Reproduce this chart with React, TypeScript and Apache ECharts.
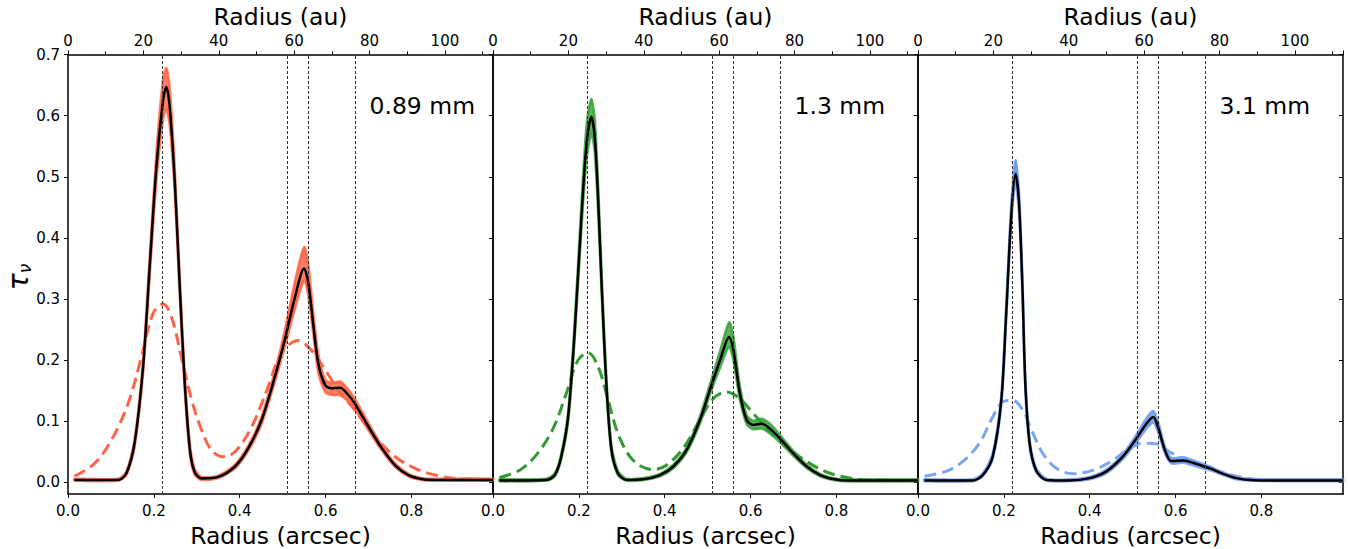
import React, { useEffect, useRef } from "react";
import * as echarts from "echarts";

// ---------- data ----------
const PANEL_LABELS = ["0.89 mm", "1.3 mm", "3.1 mm"];
const Y_TICKS = [0, 0.1, 0.2, 0.3, 0.4, 0.5, 0.6, 0.7];
const VLINES = [0.2215, 0.505, 0.564, 0.668];
const X_MAX = 0.99;
const AU_PER_ARCSEC = 113.9;

// Panel 1 (0.89 mm)
const X1 = [0.015, 0.117, 0.136, 0.155, 0.175, 0.19, 0.206, 0.2215, 0.229, 0.237, 0.249, 0.26, 0.272, 0.284, 0.295, 0.311, 0.35, 0.389, 0.42, 0.451, 0.482, 0.505, 0.529, 0.55, 0.56, 0.571, 0.583, 0.599, 0.614, 0.634, 0.653, 0.668, 0.7, 0.731, 0.762, 0.793, 0.824, 0.855, 0.99];
const B1 = [0.004, 0.004, 0.015, 0.064, 0.19, 0.35, 0.516, 0.625, 0.647, 0.614, 0.489, 0.325, 0.162, 0.053, 0.017, 0.0065, 0.009, 0.026, 0.056, 0.102, 0.173, 0.233, 0.304, 0.35, 0.325, 0.26, 0.195, 0.159, 0.154, 0.155, 0.143, 0.129, 0.091, 0.056, 0.028, 0.012, 0.0055, 0.004, 0.004];
const U1 = [0.006, 0.006, 0.018, 0.07, 0.2, 0.365, 0.54, 0.66, 0.678, 0.645, 0.51, 0.34, 0.175, 0.062, 0.022, 0.009, 0.011, 0.029, 0.06, 0.108, 0.182, 0.248, 0.33, 0.385, 0.355, 0.28, 0.21, 0.168, 0.163, 0.165, 0.152, 0.137, 0.097, 0.06, 0.031, 0.014, 0.007, 0.006, 0.006];
const L1 = [0.003, 0.003, 0.012, 0.058, 0.18, 0.335, 0.495, 0.595, 0.61, 0.585, 0.47, 0.31, 0.15, 0.046, 0.013, 0.004, 0.007, 0.023, 0.052, 0.096, 0.165, 0.222, 0.285, 0.33, 0.305, 0.245, 0.18, 0.148, 0.143, 0.143, 0.132, 0.12, 0.085, 0.052, 0.025, 0.01, 0.004, 0.003, 0.003];
const D1X = [0.015, 0.062, 0.101, 0.14, 0.171, 0.198, 0.2215, 0.241, 0.264, 0.288, 0.311, 0.334, 0.361, 0.389, 0.428, 0.466, 0.497, 0.536, 0.567, 0.599, 0.63, 0.668, 0.715, 0.762, 0.808, 0.855, 0.902, 0.99];
const D1Y = [0.01, 0.031, 0.069, 0.129, 0.205, 0.276, 0.292, 0.271, 0.205, 0.135, 0.086, 0.053, 0.042, 0.05, 0.091, 0.156, 0.211, 0.232, 0.216, 0.184, 0.151, 0.118, 0.075, 0.042, 0.023, 0.012, 0.0065, 0.004];

// Panel 2 (1.3 mm)
const X2 = [0.015, 0.124, 0.144, 0.159, 0.175, 0.19, 0.206, 0.218, 0.229, 0.237, 0.245, 0.253, 0.264, 0.276, 0.291, 0.311, 0.35, 0.389, 0.42, 0.451, 0.482, 0.505, 0.529, 0.55, 0.56, 0.575, 0.591, 0.606, 0.626, 0.645, 0.668, 0.7, 0.731, 0.762, 0.793, 0.824, 0.99];
const B2 = [0.003, 0.004, 0.012, 0.042, 0.107, 0.244, 0.434, 0.554, 0.598, 0.565, 0.462, 0.325, 0.162, 0.053, 0.015, 0.004, 0.005, 0.012, 0.026, 0.053, 0.102, 0.151, 0.2, 0.238, 0.216, 0.146, 0.102, 0.094, 0.096, 0.088, 0.072, 0.047, 0.026, 0.012, 0.0055, 0.003, 0.003];
const U2 = [0.005, 0.006, 0.015, 0.047, 0.115, 0.258, 0.455, 0.585, 0.627, 0.595, 0.485, 0.342, 0.172, 0.06, 0.019, 0.006, 0.007, 0.014, 0.029, 0.057, 0.108, 0.16, 0.215, 0.262, 0.238, 0.158, 0.11, 0.101, 0.104, 0.096, 0.078, 0.051, 0.029, 0.014, 0.007, 0.005, 0.005];
const L2 = [0.002, 0.003, 0.01, 0.038, 0.1, 0.232, 0.415, 0.53, 0.57, 0.54, 0.44, 0.31, 0.152, 0.047, 0.012, 0.003, 0.004, 0.01, 0.023, 0.049, 0.096, 0.143, 0.188, 0.222, 0.2, 0.135, 0.095, 0.087, 0.088, 0.08, 0.066, 0.043, 0.023, 0.01, 0.004, 0.002, 0.002];
const D2X = [0.015, 0.062, 0.101, 0.14, 0.171, 0.198, 0.2215, 0.245, 0.268, 0.291, 0.319, 0.346, 0.373, 0.404, 0.443, 0.482, 0.513, 0.544, 0.575, 0.606, 0.645, 0.684, 0.731, 0.777, 0.824, 0.871, 0.99];
const D2Y = [0.008, 0.02, 0.045, 0.088, 0.146, 0.2, 0.212, 0.189, 0.135, 0.08, 0.042, 0.026, 0.021, 0.028, 0.056, 0.102, 0.137, 0.148, 0.137, 0.113, 0.083, 0.058, 0.034, 0.017, 0.008, 0.004, 0.003];

// Panel 3 (3.1 mm)
const X3 = [0.015, 0.127, 0.151, 0.174, 0.194, 0.205, 0.217, 0.227, 0.235, 0.243, 0.25, 0.26, 0.275, 0.299, 0.353, 0.4, 0.439, 0.477, 0.509, 0.532, 0.548, 0.559, 0.575, 0.59, 0.618, 0.649, 0.68, 0.711, 0.742, 0.773, 0.843, 0.99];
const B3 = [0.003, 0.003, 0.012, 0.042, 0.134, 0.27, 0.434, 0.505, 0.461, 0.325, 0.162, 0.064, 0.02, 0.004, 0.003, 0.007, 0.018, 0.042, 0.072, 0.096, 0.107, 0.091, 0.053, 0.035, 0.036, 0.03, 0.023, 0.014, 0.007, 0.004, 0.003, 0.003];
const U3 = [0.005, 0.005, 0.015, 0.047, 0.142, 0.282, 0.452, 0.527, 0.48, 0.34, 0.172, 0.07, 0.024, 0.006, 0.005, 0.009, 0.021, 0.046, 0.078, 0.105, 0.117, 0.1, 0.059, 0.04, 0.041, 0.034, 0.026, 0.016, 0.009, 0.006, 0.005, 0.005];
const L3 = [0.002, 0.002, 0.01, 0.038, 0.127, 0.26, 0.42, 0.49, 0.445, 0.312, 0.153, 0.058, 0.017, 0.003, 0.002, 0.005, 0.015, 0.038, 0.066, 0.088, 0.098, 0.083, 0.048, 0.031, 0.032, 0.026, 0.02, 0.012, 0.005, 0.003, 0.002, 0.002];
const D3X = [0.015, 0.065, 0.104, 0.143, 0.174, 0.198, 0.221, 0.244, 0.268, 0.291, 0.322, 0.361, 0.408, 0.454, 0.493, 0.524, 0.555, 0.586, 0.633, 0.688, 0.742, 0.804, 0.99];
const D3Y = [0.01, 0.018, 0.034, 0.064, 0.107, 0.132, 0.134, 0.118, 0.08, 0.047, 0.023, 0.014, 0.02, 0.036, 0.056, 0.064, 0.063, 0.05, 0.034, 0.021, 0.01, 0.004, 0.003];

const PANELS = [
  { x: X1, best: B1, up: U1, lo: L1, dx: D1X, dy: D1Y, dash: "#ff6347", band: "rgba(255,92,60,0.8)" },
  { x: X2, best: B2, up: U2, lo: L2, dx: D2X, dy: D2Y, dash: "#339933", band: "rgba(50,160,50,0.8)" },
  { x: X3, best: B3, up: U3, lo: L3, dx: D3X, dy: D3Y, dash: "#7aa5f0", band: "rgba(100,149,237,0.8)" },
];

const FONT = "DejaVu Sans";

export default function App() {
  const ref = useRef<HTMLDivElement>(null);
  useEffect(() => {
    if (!ref.current) return;
    const chart = echarts.init(ref.current, undefined, { renderer: "svg" });
    const left0 = 68;
    const w = 425;
    const grids: any[] = [];
    const xAxes: any[] = [];
    const yAxes: any[] = [];
    const series: any[] = [];
    const graphics: any[] = [];
    PANELS.forEach((p, i) => {
      const left = left0 + i * w;
      grids.push({ left, width: w, top: 54.5, height: 439.5, containLabel: false, outerBoundsMode: "none" });
      xAxes.push({
        type: "value", gridIndex: i, position: "bottom", min: 0, max: X_MAX, interval: 0.2,
        axisLine: { show: true, onZero: false, lineStyle: { color: "#000", width: 1.5 } },
        axisTick: { show: true, inside: false, length: 4, lineStyle: { color: "#000" } },
        axisLabel: { show: true, showMaxLabel: false, color: "#000", fontFamily: FONT, fontSize: 15, margin: 9, formatter: (v: number) => v.toFixed(1) },
        splitLine: { show: false },
        name: "Radius (arcsec)", nameLocation: "middle", nameGap: 30,
        nameTextStyle: { color: "#000", fontFamily: FONT, fontSize: 23.5 },
      });
      xAxes.push({
        type: "value", gridIndex: i, position: "top", min: 0, max: X_MAX * AU_PER_ARCSEC, interval: 20,
        axisLine: { show: true, onZero: false, lineStyle: { color: "#000", width: 1.5 } },
        axisTick: { show: true, inside: false, length: 4, lineStyle: { color: "#000" } },
        minorTick: { show: true, splitNumber: 2, length: 3, lineStyle: { color: "#000" } },
        axisLabel: { show: true, showMaxLabel: false, color: "#000", fontFamily: FONT, fontSize: 15, margin: 6 },
        splitLine: { show: false },
        name: "Radius (au)", nameLocation: "middle", nameGap: 25,
        nameTextStyle: { color: "#000", fontFamily: FONT, fontSize: 23.5 },
      });
      yAxes.push({
        type: "value", gridIndex: i, position: "left", min: -0.019, max: 0.7,
        axisLine: { show: true, onZero: false, lineStyle: { color: "#000", width: 1.5 } },
        axisTick: { show: true, inside: false, length: 4, customValues: Y_TICKS, lineStyle: { color: "#000" } },
        axisLabel: { show: i === 0, customValues: Y_TICKS, color: "#000", fontFamily: FONT, fontSize: 15, margin: 8, formatter: (v: number) => v.toFixed(1) },
        splitLine: { show: false },
      });
      yAxes.push({
        type: "value", gridIndex: i, position: "right", min: -0.019, max: 0.7,
        axisLine: { show: true, onZero: false, lineStyle: { color: "#000", width: 1.5 } },
        axisTick: { show: true, inside: true, length: 4, customValues: Y_TICKS, lineStyle: { color: "#000" } },
        axisLabel: { show: false },
        splitLine: { show: false },
      });
      const xi = 2 * i;
      const yi = 2 * i;
      series.push({
        type: "custom", xAxisIndex: xi, yAxisIndex: yi, data: [[0, 0]], z: 1, silent: true,
        renderItem: (_params: any, api: any) => {
          const pts: number[][] = [];
          p.x.forEach((x, k) => pts.push(api.coord([x, p.up[k]])));
          for (let k = p.x.length - 1; k >= 0; k--) pts.push(api.coord([p.x[k], p.lo[k]]));
          return { type: "polygon", shape: { points: pts, smooth: 0.25 }, style: { fill: p.band, stroke: p.band, lineWidth: 2.5 } };
        },
      });
      series.push({
        type: "line", xAxisIndex: xi, yAxisIndex: yi, data: p.dx.map((x, k) => [x, p.dy[k]]), z: 2,
        showSymbol: false, symbol: "none", smooth: 0.35,
        lineStyle: { color: p.dash, width: 3, type: [12, 6] }, silent: true,
      });
      series.push({
        type: "line", xAxisIndex: xi, yAxisIndex: yi, data: p.x.map((x, k) => [x, p.best[k]]), z: 3,
        showSymbol: false, symbol: "none", smooth: 0.3,
        lineStyle: { color: "#000", width: 2.5 }, silent: true,
        markLine: {
          silent: true, symbol: ["none", "none"], label: { show: false },
          lineStyle: { color: "#333", width: 1, type: [3, 2] },
          data: VLINES.map((v) => ({ xAxis: v })),
        },
      });
      graphics.push({
        type: "text", left: left + 301.5, top: 94,
        style: { text: PANEL_LABELS[i], fill: "#000", fontFamily: FONT, fontSize: 23.5 },
      });
    });
    graphics.push({
      type: "text", x: 18, y: 277, rotation: Math.PI / 2,
      style: {
        text: "{t|τ}{n|ν}", align: "center", verticalAlign: "middle",
        rich: {
          t: { fontFamily: FONT, fontSize: 28, fontStyle: "italic", fill: "#000", lineHeight: 30 },
          n: { fontFamily: FONT, fontSize: 17, fontStyle: "italic", fill: "#000", lineHeight: 16, verticalAlign: "bottom" },
        },
      },
    });
    chart.setOption({
      animation: false,
      backgroundColor: "#fff",
      grid: grids,
      xAxis: xAxes,
      yAxis: yAxes,
      series,
      graphic: graphics,
    });
    return () => chart.dispose();
  }, []);
  return <div ref={ref} style={{ position: "absolute", left: 0, top: 0, width: 1348, height: 549 }} />;
}
